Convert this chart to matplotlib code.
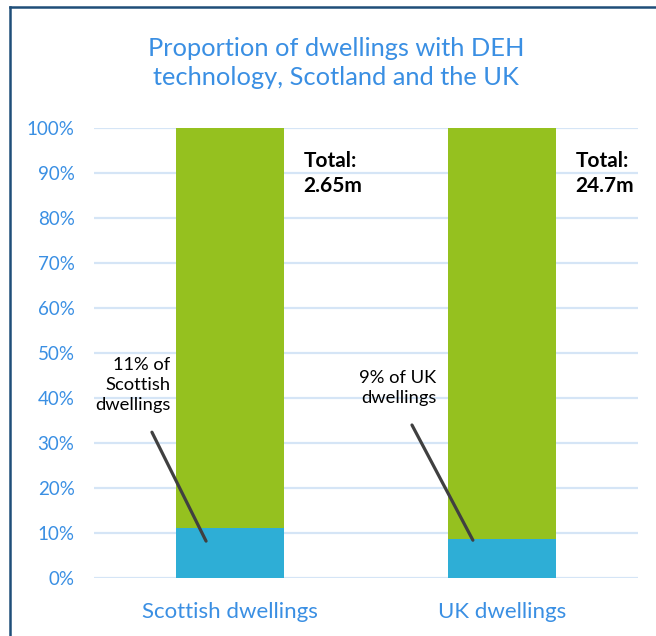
import matplotlib.pyplot as plt
from matplotlib.lines import Line2D

# Dados
categories = ["Scottish dwellings", "UK dwellings"]
deh_share = [11.2, 8.7]          # % com tecnologia DEH
rest_share = [100 - v for v in deh_share]
totals = ["Total:\n2.65m", "Total:\n24.7m"]
notes = ["11% of\nScottish\ndwellings", "9% of UK\ndwellings"]
y_ticks = list(range(0, 101, 10))

green = "#95C11F"
blue = "#2EAED6"
text_blue = "#3A8FE3"
grid_blue = "#D5E5F6"

plt.rcParams['font.family'] = ['Lato', 'DejaVu Sans']

fig = plt.figure(figsize=(6.56, 6.36), dpi=100)
ax = fig.add_axes([94 / 656, 1 - 578 / 636, 544 / 656, 450 / 636])

x = range(len(categories))
ax.bar(x, deh_share, width=0.4, color=blue, zorder=3)
ax.bar(x, rest_share, bottom=deh_share, width=0.4, color=green, zorder=3)

ax.set_xlim(-0.5, 1.5)
ax.set_ylim(0, 100)
ax.set_yticks(y_ticks)
ax.set_yticklabels([f"{t}%" for t in y_ticks])
ax.set_xticks(list(x))
ax.set_xticklabels(categories)
ax.tick_params(axis='y', length=0, pad=14, labelsize=13.5, colors=text_blue)
ax.tick_params(axis='x', length=0, pad=17, labelsize=16, colors=text_blue)
ax.grid(axis='y', color=grid_blue, linewidth=1.6, zorder=0)
for s in ax.spines.values():
    s.set_visible(False)

# Totais ao lado das barras
for i, t in enumerate(totals):
    ax.text(i + 0.27, 94.8, t, ha='left', va='top', fontsize=15,
            fontweight='bold', color='black', linespacing=1.3)

# Anotações: texto e linha de ligação
ax.text(-0.22, 42.9, notes[0], ha='right', va='center', fontsize=13.2,
        color='black', linespacing=1.3)
ax.annotate("", xy=(-0.088, 8.2), xytext=(-0.287, 32.4),
            arrowprops=dict(arrowstyle='-', color='#404040', lw=2.3,
                            shrinkA=0, shrinkB=0))
ax.text(0.76, 42.3, notes[1], ha='right', va='center', fontsize=13.2,
        color='black', linespacing=1.3)
ax.annotate("", xy=(0.893, 8.4), xytext=(0.669, 34),
            arrowprops=dict(arrowstyle='-', color='#404040', lw=2.3,
                            shrinkA=0, shrinkB=0))

fig.text(336 / 656, 1 - 63 / 636, "Proportion of dwellings with DEH\ntechnology, Scotland and the UK",
         ha='center', va='center', fontsize=18.3, color=text_blue, linespacing=1.33)

# Borda do gráfico
fig.add_artist(Line2D([9.5 / 656, 9.5 / 656], [0, 1 - 6.5 / 636], transform=fig.transFigure,
                      color='#1F4E79', lw=1.8))
fig.add_artist(Line2D([9.5 / 656, 1], [1 - 6.5 / 636, 1 - 6.5 / 636], transform=fig.transFigure,
                      color='#1F4E79', lw=1.8))

fig.savefig("out.png", dpi=100)
